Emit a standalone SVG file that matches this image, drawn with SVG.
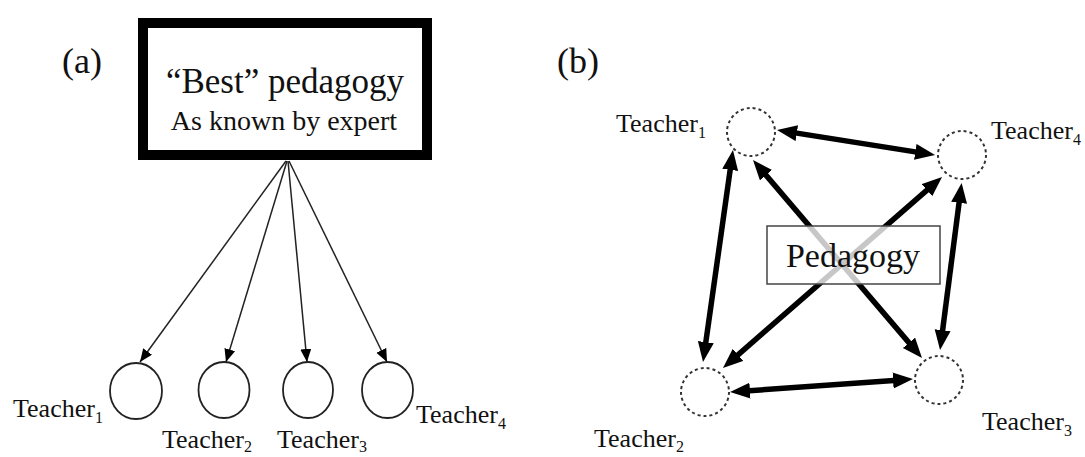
<svg xmlns="http://www.w3.org/2000/svg" width="1085" height="457" viewBox="0 0 1085 457">
<style>
  .t { font-family: "Liberation Serif", "Times New Roman", serif; fill: #111; }
  .lbl { font-size: 26px; }
  .sub { font-size: 16px; }
  .thin { stroke: #222; stroke-width: 1.5; fill: none; marker-end: url(#ah); }
  .thick { stroke: #000; stroke-width: 5.5; fill: none; marker-start: url(#bh); marker-end: url(#bh); }
  .tc { fill: none; stroke: #222; stroke-width: 1.8; }
  .dc { fill: none; stroke: #333; stroke-width: 2; stroke-dasharray: 3 3; }
</style>
<defs>
  <marker id="ah" markerUnits="userSpaceOnUse" markerWidth="16" markerHeight="14" refX="13" refY="5.5" orient="auto">
    <path d="M0,0 L13,5.5 L0,11 z" fill="#000"/>
  </marker>
  <marker id="bh" markerUnits="userSpaceOnUse" markerWidth="24" markerHeight="20" refX="8" refY="8" orient="auto-start-reverse">
    <path d="M0,0 L20,8 L0,16 z" fill="#000"/>
  </marker>
</defs>
<rect width="1085" height="457" fill="#fff"/>

<!-- Panel (a) -->
<text class="t" x="62" y="73" font-size="36">(a)</text>
<g id="expert">
  <rect x="143" y="23" width="284" height="132" fill="#fff" stroke="#000" stroke-width="10"/>
  <text class="t" x="285" y="93" font-size="35" text-anchor="middle">“Best” pedagogy</text>
  <text class="t" x="284" y="130" font-size="28" text-anchor="middle">As known by expert</text>
</g>
<g id="connectors-a">
  <line class="thin" x1="286" y1="161" x2="140" y2="362"/>
  <line class="thin" x1="287" y1="161" x2="226" y2="362"/>
  <line class="thin" x1="288" y1="161" x2="307" y2="362"/>
  <line class="thin" x1="289" y1="161" x2="387" y2="362"/>
</g>
<g id="a-teacher1">
  <ellipse class="tc" cx="136" cy="391" rx="26" ry="28"/>
  <text class="t lbl" x="13" y="417">Teacher<tspan class="sub" dy="6">1</tspan></text>
</g>
<g id="a-teacher2">
  <ellipse class="tc" cx="224" cy="390" rx="25.5" ry="28"/>
  <text class="t lbl" x="162" y="448">Teacher<tspan class="sub" dy="4">2</tspan></text>
</g>
<g id="a-teacher3">
  <ellipse class="tc" cx="308" cy="390" rx="25" ry="28"/>
  <text class="t lbl" x="277" y="448">Teacher<tspan class="sub" dy="4">3</tspan></text>
</g>
<g id="a-teacher4">
  <ellipse class="tc" cx="387.5" cy="390" rx="25.5" ry="28"/>
  <text class="t lbl" x="416" y="423">Teacher<tspan class="sub" dy="6">4</tspan></text>
</g>

<!-- Panel (b) -->
<text class="t" x="557" y="73" font-size="36">(b)</text>
<g id="connectors-b">
  <line class="thick" x1="788.9" y1="131.9" x2="923.2" y2="153.1"/>
  <line class="thick" x1="742" y1="391.2" x2="901" y2="379.9"/>
  <line class="thick" x1="731.3" y1="161.9" x2="704.7" y2="350.1"/>
  <line class="thick" x1="960.1" y1="194.9" x2="941.6" y2="338.1"/>
  <line class="thick" x1="760.8" y1="169.1" x2="914.2" y2="348.9"/>
  <line class="thick" x1="732" y1="360.1" x2="933" y2="184.9"/>
</g>
<g id="pedagogy">
  <rect x="767" y="226" width="173" height="58" fill="#fff" fill-opacity="0.78" stroke="#444" stroke-width="1.5"/>
  <text class="t" x="853" y="267" font-size="34" text-anchor="middle">Pedagogy</text>
</g>
<g id="b-teacher1">
  <circle class="dc" cx="751" cy="132" r="24"/>
  <text class="t lbl" x="616" y="132">Teacher<tspan class="sub" dy="6">1</tspan></text>
</g>
<g id="b-teacher4">
  <circle class="dc" cx="962" cy="155" r="24"/>
  <text class="t lbl" x="991" y="139">Teacher<tspan class="sub" dy="6">4</tspan></text>
</g>
<g id="b-teacher2">
  <circle class="dc" cx="705" cy="392" r="24"/>
  <text class="t lbl" x="594" y="447">Teacher<tspan class="sub" dy="5">2</tspan></text>
</g>
<g id="b-teacher3">
  <circle class="dc" cx="939" cy="380" r="24"/>
  <text class="t lbl" x="982" y="430">Teacher<tspan class="sub" dy="6">3</tspan></text>
</g>
</svg>
